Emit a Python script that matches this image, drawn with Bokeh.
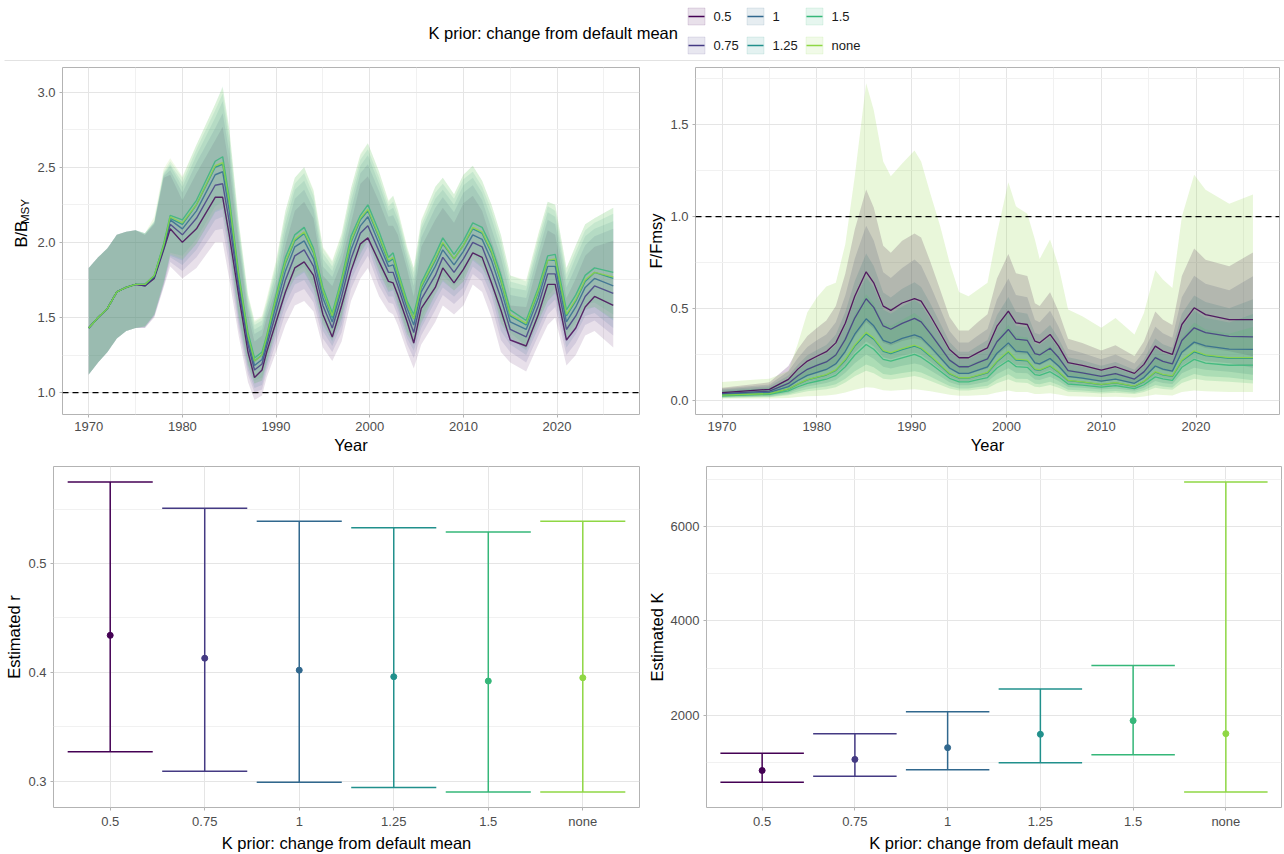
import math
from bokeh.plotting import figure
from bokeh.layouts import column, row
from bokeh.models import Range1d, FixedTicker, Span, NumeralTickFormatter
from bokeh.embed import file_html
from bokeh.resources import INLINE
from bokeh.core.properties import value

FONT = "Liberation Sans"
SCEN = ["0.5", "0.75", "1", "1.25", "1.5", "none"]
COLORS = ["#440154", "#443A83", "#31688E", "#21908C", "#35B779", "#8FD744"]

# ---------------- B/Bmsy ----------------
YEARS_B = [1970, 1971, 1972, 1973, 1974, 1975, 1976, 1977, 1978, 1978.7, 1980, 1981.5, 1983.5, 1984.3, 1985, 1986, 1987, 1987.7, 1988.5, 1989,
           1990, 1991, 1992, 1993, 1994, 1995, 1996, 1997, 1998, 1999, 1999.8, 2001, 2002, 2002.5, 2003, 2004, 2004.7, 2005.5, 2007, 2007.8,
           2009, 2010, 2011, 2012, 2013, 2014, 2015, 2016.7, 2018, 2019, 2019.8, 2021, 2022, 2023, 2024, 2026]
B_MED_05 = [1.43,1.50,1.56,1.67,1.70,1.72,1.71,1.76,1.95,2.09, 2.00,2.09,2.30,2.30,2.05,1.65,1.27,1.10,1.15,1.27, 1.47,1.67,1.83,1.87,1.78,1.52,1.37,1.58,1.81,1.99, 2.03,1.87,1.74,1.73,1.65,1.47,1.33,1.56,1.70,1.83, 1.73,1.82,1.93,1.90,1.73,1.55,1.35,1.31,1.52,1.72, 1.72,1.35,1.43,1.57,1.64,1.58]
B_MED_075 = [1.43,1.50,1.56,1.67,1.70,1.72,1.71,1.77,1.96,2.12, 2.05,2.16,2.38,2.39,2.14,1.70,1.32,1.15,1.19,1.31, 1.53,1.75,1.91,1.95,1.84,1.58,1.43,1.64,1.89,2.06, 2.11,1.94,1.80,1.80,1.71,1.52,1.40,1.62,1.78,1.90, 1.80,1.89,2.00,1.97,1.81,1.63,1.42,1.37,1.58,1.79, 1.79,1.42,1.51,1.64,1.71,1.66]
B_MED_1 = [1.43,1.50,1.56,1.67,1.70,1.72,1.72,1.77,1.97,2.15, 2.09,2.21,2.45,2.47,2.21,1.74,1.35,1.18,1.22,1.34, 1.58,1.81,1.97,2.01,1.89,1.63,1.47,1.69,1.95,2.11, 2.17,1.99,1.84,1.85,1.75,1.56,1.45,1.67,1.84,1.95, 1.85,1.94,2.05,2.02,1.88,1.69,1.47,1.42,1.63,1.84, 1.84,1.47,1.57,1.70,1.76,1.71]
B_MED_125 = [1.43,1.50,1.56,1.67,1.70,1.72,1.72,1.78,1.98,2.16, 2.12,2.25,2.50,2.52,2.26,1.77,1.38,1.21,1.25,1.36, 1.62,1.86,2.01,2.06,1.93,1.67,1.50,1.73,2.00,2.15, 2.21,2.03,1.87,1.89,1.78,1.59,1.49,1.70,1.88,1.99, 1.89,1.98,2.09,2.06,1.93,1.74,1.51,1.45,1.67,1.88, 1.88,1.51,1.61,1.74,1.80,1.76]
B_MED_15 = [1.43,1.50,1.56,1.67,1.70,1.72,1.72,1.78,1.99,2.18, 2.15,2.28,2.54,2.57,2.30,1.80,1.40,1.23,1.27,1.38, 1.65,1.90,2.05,2.10,1.96,1.70,1.53,1.76,2.04,2.18, 2.25,2.07,1.90,1.93,1.81,1.61,1.52,1.73,1.92,2.03, 1.92,2.01,2.13,2.10,1.97,1.78,1.55,1.48,1.70,1.91, 1.92,1.55,1.65,1.78,1.83,1.80]
B_MED_NONE = [1.43,1.50,1.56,1.67,1.70,1.72,1.72,1.78,1.98,2.17, 2.13,2.25,2.51,2.53,2.27,1.78,1.38,1.21,1.25,1.37, 1.63,1.87,2.02,2.07,1.94,1.68,1.51,1.74,2.01,2.16, 2.22,2.04,1.88,1.90,1.79,1.59,1.49,1.71,1.89,2.00, 1.89,1.98,2.10,2.07,1.94,1.75,1.52,1.46,1.68,1.88, 1.89,1.52,1.62,1.75,1.80,1.77]

B_LO_05 = [1.12,1.20,1.27,1.36,1.41,1.43,1.43,1.50,1.70,1.84, 1.76,1.83,2.00,2.00,1.76,1.38,1.07,0.95,0.98,1.10, 1.27,1.45,1.58,1.61,1.54,1.30,1.21,1.34,1.61,1.76, 1.83,1.64,1.54,1.52,1.45,1.27,1.16,1.32,1.47,1.58, 1.52,1.58,1.72,1.67,1.50,1.27,1.20,1.14,1.32,1.45, 1.50,1.18,1.25,1.38,1.41,1.30]
B_LO_075 = [1.12,1.20,1.27,1.36,1.41,1.43,1.43,1.51,1.71,1.87, 1.81,1.90,2.08,2.09,1.85,1.43,1.12,1.00,1.02,1.14, 1.33,1.53,1.66,1.69,1.60,1.36,1.27,1.40,1.69,1.83, 1.91,1.71,1.60,1.59,1.51,1.32,1.23,1.38,1.55,1.65, 1.59,1.65,1.79,1.74,1.58,1.35,1.27,1.20,1.38,1.52, 1.57,1.25,1.33,1.45,1.48,1.38]
B_LO_1 = [1.12,1.20,1.27,1.36,1.41,1.43,1.44,1.51,1.72,1.90, 1.85,1.95,2.15,2.17,1.92,1.47,1.15,1.03,1.05,1.17, 1.38,1.59,1.72,1.75,1.65,1.41,1.31,1.45,1.75,1.88, 1.97,1.76,1.64,1.64,1.55,1.36,1.28,1.43,1.61,1.70, 1.64,1.70,1.84,1.79,1.65,1.41,1.32,1.25,1.43,1.57, 1.62,1.30,1.39,1.51,1.53,1.43]
B_LO_125 = [1.12,1.20,1.27,1.36,1.41,1.43,1.44,1.52,1.73,1.91, 1.88,1.99,2.20,2.22,1.97,1.50,1.18,1.06,1.08,1.19, 1.42,1.64,1.76,1.80,1.69,1.45,1.34,1.49,1.80,1.92, 2.01,1.80,1.67,1.68,1.58,1.39,1.32,1.46,1.65,1.74, 1.68,1.74,1.88,1.83,1.70,1.46,1.36,1.28,1.47,1.61, 1.66,1.34,1.43,1.55,1.57,1.48]
B_LO_15 = [1.12,1.20,1.27,1.36,1.41,1.43,1.44,1.52,1.74,1.93, 1.91,2.02,2.24,2.27,2.01,1.53,1.20,1.08,1.10,1.21, 1.45,1.68,1.80,1.84,1.72,1.48,1.37,1.52,1.84,1.95, 2.05,1.84,1.70,1.72,1.61,1.41,1.35,1.49,1.69,1.78, 1.71,1.77,1.92,1.87,1.74,1.50,1.40,1.31,1.50,1.64, 1.70,1.38,1.47,1.59,1.60,1.52]
B_LO_NONE = [1.12,1.20,1.27,1.36,1.41,1.43,1.44,1.52,1.73,1.92, 1.89,1.99,2.21,2.23,1.98,1.51,1.18,1.06,1.08,1.20, 1.43,1.65,1.77,1.81,1.70,1.46,1.35,1.50,1.81,1.93, 2.02,1.81,1.68,1.69,1.59,1.39,1.32,1.47,1.66,1.75, 1.68,1.74,1.89,1.84,1.71,1.47,1.37,1.29,1.48,1.61, 1.67,1.35,1.44,1.56,1.57,1.49]

B_HI_05 = [1.83,1.90,1.96,2.05,2.07,2.08,2.05,2.12,2.43,2.45, 2.28,2.46,2.68,2.77,2.51,1.99,1.52,1.34,1.38,1.50, 1.69,1.98,2.21,2.27,2.16,1.78,1.71,1.87,2.13,2.39, 2.44,2.27,2.11,2.11,2.05,1.82,1.64,1.97,2.15,2.23, 2.13,2.26,2.31,2.21,2.01,1.82,1.58,1.57,1.87,2.08, 2.05,1.63,1.76,1.91,1.97,2.01]
B_HI_075 = [1.83,1.90,1.96,2.05,2.07,2.08,2.05,2.13,2.44,2.48, 2.33,2.53,2.76,2.86,2.60,2.04,1.57,1.39,1.42,1.54, 1.75,2.06,2.29,2.35,2.22,1.84,1.77,1.93,2.21,2.46, 2.52,2.34,2.17,2.18,2.11,1.87,1.71,2.03,2.23,2.30, 2.20,2.33,2.38,2.28,2.09,1.90,1.65,1.63,1.93,2.15, 2.12,1.70,1.84,1.98,2.04,2.09]
B_HI_1 = [1.83,1.90,1.96,2.05,2.07,2.08,2.06,2.13,2.45,2.51, 2.37,2.58,2.83,2.94,2.67,2.08,1.60,1.42,1.45,1.57, 1.80,2.12,2.35,2.41,2.27,1.89,1.81,1.98,2.27,2.51, 2.58,2.39,2.21,2.23,2.15,1.91,1.76,2.08,2.29,2.35, 2.25,2.38,2.43,2.33,2.16,1.96,1.70,1.68,1.98,2.20, 2.17,1.75,1.90,2.04,2.09,2.14]
B_HI_125 = [1.83,1.90,1.96,2.05,2.07,2.08,2.06,2.14,2.46,2.52, 2.40,2.62,2.88,2.99,2.72,2.11,1.63,1.45,1.48,1.59, 1.84,2.17,2.39,2.46,2.31,1.93,1.84,2.02,2.32,2.55, 2.62,2.43,2.24,2.27,2.18,1.94,1.80,2.11,2.33,2.39, 2.29,2.42,2.47,2.37,2.21,2.01,1.74,1.71,2.02,2.24, 2.21,1.79,1.94,2.08,2.13,2.19]
B_HI_15 = [1.83,1.90,1.96,2.05,2.07,2.08,2.06,2.14,2.47,2.54, 2.43,2.65,2.92,3.04,2.76,2.14,1.65,1.47,1.50,1.61, 1.87,2.21,2.43,2.50,2.34,1.96,1.87,2.05,2.36,2.58, 2.66,2.47,2.27,2.31,2.21,1.96,1.83,2.14,2.37,2.43, 2.32,2.45,2.51,2.41,2.25,2.05,1.78,1.74,2.05,2.27, 2.25,1.83,1.98,2.12,2.16,2.23]
B_HI_NONE = [1.83,1.90,1.96,2.05,2.07,2.08,2.06,2.17,2.49,2.56, 2.44,2.65,2.92,3.03,2.76,2.15,1.66,1.48,1.51,1.63, 1.88,2.21,2.43,2.50,2.35,1.97,1.88,2.06,2.36,2.59, 2.66,2.47,2.28,2.31,2.22,1.97,1.83,2.15,2.37,2.43, 2.32,2.45,2.51,2.41,2.25,2.05,1.78,1.75,2.06,2.27, 2.25,1.83,1.98,2.12,2.16,2.23]

# ---------------- F/Fmsy ----------------
YEARS_F = [1970, 1975, 1977, 1978, 1979, 1980, 1981, 1982, 1983, 1984, 1985.2, 1986, 1987, 1987.8, 1989, 1990.3, 1991, 1992, 1993, 1994,
           1995, 1996, 1997, 1998, 1999, 2000.2, 2001, 2002.2, 2003, 2003.5, 2004.6, 2005.5, 2006.5, 2008, 2010, 2011.5, 2013.5, 2014.5, 2015.7, 2016.5,
           2017.5, 2018.5, 2019.8, 2021, 2023.5, 2026]
F_MED_05 = [0.042,0.060,0.114,0.170,0.214,0.240,0.265,0.313,0.420,0.567, 0.700,0.640,0.513,0.490,0.530,0.554,0.540,0.458,0.368,0.277, 0.232,0.232,0.260,0.286,0.404,0.486,0.422,0.413,0.322,0.313, 0.359,0.295,0.205,0.190,0.165,0.183,0.147,0.196,0.295,0.268, 0.250,0.413,0.504,0.467,0.440,0.440]
F_MED_075 = [0.037,0.050,0.092,0.134,0.169,0.190,0.209,0.247,0.332,0.448, 0.553,0.506,0.405,0.387,0.419,0.446,0.427,0.362,0.291,0.219, 0.183,0.183,0.205,0.226,0.319,0.386,0.333,0.326,0.254,0.247, 0.284,0.233,0.162,0.150,0.130,0.145,0.116,0.155,0.233,0.212, 0.198,0.326,0.395,0.369,0.348,0.346]
F_MED_1 = [0.033,0.043,0.075,0.108,0.136,0.152,0.168,0.199,0.267,0.360, 0.444,0.406,0.326,0.311,0.337,0.357,0.343,0.291,0.234,0.176, 0.147,0.147,0.165,0.182,0.257,0.313,0.268,0.262,0.204,0.199, 0.228,0.187,0.130,0.121,0.105,0.116,0.093,0.124,0.187,0.170, 0.159,0.262,0.317,0.297,0.279,0.277]
F_MED_125 = [0.029,0.037,0.061,0.088,0.111,0.125,0.138,0.163,0.218,0.295, 0.362,0.333,0.267,0.255,0.276,0.295,0.281,0.238,0.191,0.144, 0.121,0.121,0.135,0.149,0.210,0.263,0.219,0.215,0.167,0.163, 0.187,0.153,0.107,0.099,0.086,0.095,0.076,0.102,0.153,0.139, 0.130,0.215,0.264,0.243,0.229,0.228]
F_MED_15 = [0.025,0.033,0.052,0.074,0.093,0.104,0.115,0.136,0.183,0.247, 0.304,0.278,0.223,0.213,0.231,0.250,0.235,0.199,0.160,0.120, 0.101,0.101,0.113,0.124,0.176,0.217,0.184,0.180,0.140,0.136, 0.156,0.128,0.089,0.083,0.072,0.080,0.064,0.085,0.128,0.117, 0.109,0.180,0.223,0.203,0.191,0.192]
F_MED_NONE = [0.029,0.037,0.062,0.090,0.113,0.127,0.140,0.166,0.223,0.301, 0.370,0.339,0.272,0.260,0.281,0.300,0.286,0.243,0.195,0.147, 0.123,0.123,0.138,0.152,0.214,0.268,0.224,0.219,0.171,0.166, 0.190,0.156,0.109,0.101,0.087,0.097,0.078,0.104,0.156,0.142, 0.133,0.219,0.270,0.248,0.233,0.233]

F_LO_05 = [0.026,0.037,0.070,0.104,0.131,0.146,0.162,0.191,0.256,0.346, 0.427,0.390,0.313,0.299,0.323,0.338,0.329,0.279,0.224,0.169, 0.142,0.142,0.159,0.174,0.246,0.296,0.257,0.252,0.196,0.191, 0.219,0.180,0.125,0.116,0.101,0.112,0.090,0.120,0.180,0.163, 0.153,0.252,0.307,0.285,0.268,0.240]
F_LO_075 = [0.021,0.029,0.053,0.078,0.098,0.110,0.121,0.143,0.193,0.260, 0.321,0.293,0.235,0.224,0.243,0.259,0.248,0.210,0.169,0.127, 0.106,0.106,0.119,0.131,0.185,0.224,0.193,0.189,0.147,0.143, 0.165,0.135,0.094,0.087,0.075,0.084,0.067,0.090,0.135,0.123, 0.115,0.189,0.229,0.214,0.202,0.178]
F_LO_1 = [0.018,0.024,0.042,0.060,0.076,0.085,0.094,0.111,0.150,0.202, 0.249,0.227,0.183,0.174,0.189,0.200,0.192,0.163,0.131,0.099, 0.082,0.082,0.092,0.102,0.144,0.175,0.150,0.147,0.114,0.111, 0.128,0.105,0.073,0.068,0.059,0.065,0.052,0.069,0.105,0.095, 0.089,0.147,0.178,0.166,0.156,0.140]
F_LO_125 = [0.016,0.020,0.033,0.048,0.060,0.068,0.075,0.088,0.118,0.159, 0.195,0.180,0.144,0.138,0.149,0.159,0.152,0.129,0.103,0.078, 0.065,0.065,0.073,0.080,0.113,0.142,0.118,0.116,0.090,0.088, 0.101,0.083,0.058,0.053,0.046,0.051,0.041,0.055,0.083,0.075, 0.070,0.116,0.143,0.131,0.124,0.110]
F_LO_15 = [0.013,0.017,0.028,0.039,0.049,0.055,0.061,0.072,0.097,0.131, 0.161,0.147,0.118,0.113,0.122,0.133,0.125,0.105,0.085,0.064, 0.054,0.054,0.060,0.066,0.093,0.115,0.098,0.095,0.074,0.072, 0.083,0.068,0.047,0.044,0.038,0.042,0.034,0.045,0.068,0.062, 0.058,0.095,0.118,0.108,0.101,0.092]
F_LO_NONE = [0.009,0.010,0.013,0.018,0.022,0.024,0.027,0.032,0.043,0.058, 0.072,0.068,0.055,0.052,0.056,0.060,0.057,0.049,0.040,0.030, 0.025,0.025,0.028,0.031,0.043,0.053,0.046,0.045,0.035,0.034, 0.039,0.032,0.022,0.021,0.018,0.020,0.016,0.021,0.032,0.029, 0.027,0.045,0.054,0.050,0.046,0.045]

F_HI_05 = [0.069,0.098,0.187,0.279,0.351,0.394,0.435,0.513,0.689,0.930, 1.148,1.050,0.841,0.804,0.869,0.909,0.886,0.751,0.604,0.454, 0.380,0.380,0.426,0.469,0.663,0.797,0.692,0.677,0.528,0.513, 0.589,0.484,0.336,0.312,0.271,0.300,0.241,0.321,0.484,0.440, 0.410,0.677,0.827,0.766,0.730,0.805]
F_HI_075 = [0.064,0.086,0.158,0.230,0.291,0.327,0.359,0.425,0.571,0.771, 0.951,0.870,0.697,0.666,0.721,0.767,0.734,0.623,0.501,0.377, 0.315,0.315,0.353,0.389,0.549,0.664,0.573,0.561,0.437,0.425, 0.488,0.401,0.279,0.258,0.224,0.249,0.200,0.267,0.401,0.365, 0.341,0.561,0.679,0.635,0.599,0.675]
F_HI_1 = [0.059,0.077,0.135,0.194,0.245,0.274,0.302,0.358,0.481,0.648, 0.799,0.731,0.587,0.560,0.607,0.643,0.617,0.524,0.421,0.317, 0.265,0.265,0.297,0.328,0.463,0.563,0.482,0.472,0.367,0.358, 0.410,0.337,0.234,0.218,0.189,0.209,0.167,0.223,0.337,0.306, 0.286,0.472,0.571,0.535,0.502,0.550]
F_HI_125 = [0.054,0.068,0.113,0.163,0.205,0.231,0.255,0.302,0.403,0.546, 0.670,0.616,0.494,0.472,0.511,0.546,0.520,0.440,0.353,0.266, 0.224,0.224,0.250,0.276,0.389,0.487,0.405,0.398,0.309,0.302, 0.346,0.283,0.198,0.183,0.159,0.176,0.141,0.189,0.283,0.257, 0.241,0.398,0.488,0.450,0.424,0.470]
F_HI_15 = [0.048,0.063,0.099,0.141,0.177,0.198,0.219,0.258,0.348,0.469, 0.578,0.528,0.424,0.405,0.439,0.475,0.447,0.378,0.304,0.228, 0.192,0.192,0.215,0.236,0.334,0.412,0.350,0.342,0.266,0.258, 0.296,0.243,0.169,0.158,0.137,0.152,0.122,0.162,0.243,0.222, 0.207,0.342,0.424,0.386,0.363,0.400]
F_HI_NONE = [0.100,0.118,0.160,0.310,0.480,0.560,0.620,0.640,0.850,1.220, 1.726,1.580,1.300,1.220,1.290,1.360,1.300,1.120,0.950,0.750, 0.590,0.567,0.603,0.640,0.910,1.187,1.056,1.016,0.875,0.770, 0.875,0.730,0.495,0.458,0.395,0.449,0.359,0.476,0.708,0.658, 0.612,1.000,1.228,1.147,1.070,1.120]

# ---------------- r and K ----------------
R_MED = [0.434, 0.413, 0.402, 0.396, 0.392, 0.395]
R_LO = [0.327, 0.309, 0.299, 0.294, 0.290, 0.290]
R_HI = [0.575, 0.551, 0.539, 0.533, 0.529, 0.539]
K_MED = [834, 1069, 1317, 1600, 1889, 1614]
K_LO = [586, 710, 848, 1000, 1165, 379]
K_HI = [1200, 1614, 2076, 2559, 3055, 6938]

B_MEDS = [B_MED_05, B_MED_075, B_MED_1, B_MED_125, B_MED_15, B_MED_NONE]
B_LOS = [B_LO_05, B_LO_075, B_LO_1, B_LO_125, B_LO_15, B_LO_NONE]
B_HIS = [B_HI_05, B_HI_075, B_HI_1, B_HI_125, B_HI_15, B_HI_NONE]
F_MEDS = [F_MED_05, F_MED_075, F_MED_1, F_MED_125, F_MED_15, F_MED_NONE]
F_LOS = [F_LO_05, F_LO_075, F_LO_1, F_LO_125, F_LO_15, F_LO_NONE]
F_HIS = [F_HI_05, F_HI_075, F_HI_1, F_HI_125, F_HI_15, F_HI_NONE]

TICK_FS = "13px"
TITLE_FS = "16.5px"


def style(p, xlabel, ylabel):
    p.background_fill_color = "white"
    p.border_fill_color = "white"
    p.outline_line_color = "#b3b3b3"
    p.outline_line_width = 1
    p.xaxis.axis_label = xlabel
    p.yaxis.axis_label = ylabel
    for ax in p.axis:
        ax.axis_line_color = None
        ax.major_tick_line_color = "#b3b3b3"
        ax.major_tick_in = 0
        ax.major_tick_out = 3
        ax.minor_tick_line_color = None
        ax.major_label_text_font = FONT
        ax.major_label_text_font_size = TICK_FS
        ax.major_label_text_color = "#4d4d4d"
        ax.axis_label_text_font = FONT
        ax.axis_label_text_font_size = TITLE_FS
        ax.axis_label_text_font_style = "normal"
        ax.axis_label_text_color = "black"
        ax.major_label_standoff = 3
        ax.axis_label_standoff = 2
    for g in (p.xgrid[0], p.ygrid[0]):
        g.grid_line_color = "#e5e5e5"
        g.grid_line_width = 1
        g.minor_grid_line_color = "#f1f1f1"
        g.minor_grid_line_width = 1


def make_fig(w, h, xr, yr, bl, br, bt, bb):
    return figure(width=w, height=h, x_range=xr, y_range=yr, toolbar_location=None,
                  output_backend="svg", min_border_left=bl, min_border_right=br,
                  min_border_top=bt, min_border_bottom=bb)


def blank_fig(w, h, xr, yr):
    f = figure(width=w, height=h, x_range=xr, y_range=yr, toolbar_location=None,
               output_backend="svg", min_border=0)
    f.axis.visible = False
    f.grid.visible = False
    f.outline_line_color = None
    f.background_fill_color = "white"
    f.border_fill_color = "white"
    return f


# ---- B panel ----
p1 = make_fig(608, 399, Range1d(1967.2, 2028.8), Range1d(0.854, 3.164), 24, 3, 6, 46)
style(p1, "Year", None)
p1.xaxis.ticker = FixedTicker(ticks=[1970, 1980, 1990, 2000, 2010, 2020],
                              minor_ticks=[1975, 1985, 1995, 2005, 2015, 2025])
p1.yaxis.ticker = FixedTicker(ticks=[1.0, 1.5, 2.0, 2.5, 3.0], minor_ticks=[1.25, 1.75, 2.25, 2.75])
p1.yaxis.formatter = NumeralTickFormatter(format="0.0")
for i in range(6):
    p1.varea(x=YEARS_B, y1=B_LOS[i], y2=B_HIS[i], fill_color=COLORS[i], fill_alpha=0.12)
for i in range(6):
    p1.line(x=YEARS_B, y=B_MEDS[i], line_color=COLORS[i], line_width=1.4, line_alpha=0.8)
p1.add_layout(Span(location=1.0, dimension="width", line_color="black", line_dash="6 4", line_width=1.2))

# y-axis title with subscript for the B panel (separate strip on its left)
ylab = blank_fig(34, 399, Range1d(0, 34), Range1d(0, 399))
ylab.text(x=[20], y=[192], text=["B/B"], angle=math.pi / 2, text_font=value(FONT),
          text_font_size=TITLE_FS, text_align="left", text_baseline="middle", text_color="black")
ylab.text(x=[24], y=[219], text=["MSY"], angle=math.pi / 2, text_font=value(FONT),
          text_font_size="11.5px", text_align="left", text_baseline="middle", text_color="black")

# ---- F panel ----
p2 = make_fig(642, 399, Range1d(1967.2, 2028.8), Range1d(-0.077, 1.812), 53, 5, 6, 46)
style(p2, "Year", "F/Fmsy")
p2.xaxis.ticker = FixedTicker(ticks=[1970, 1980, 1990, 2000, 2010, 2020],
                              minor_ticks=[1975, 1985, 1995, 2005, 2015, 2025])
p2.yaxis.ticker = FixedTicker(ticks=[0.0, 0.5, 1.0, 1.5], minor_ticks=[0.25, 0.75, 1.25, 1.75])
p2.yaxis.formatter = NumeralTickFormatter(format="0.0")
for i in range(6):
    p2.varea(x=YEARS_F, y1=F_LOS[i], y2=F_HIS[i], fill_color=COLORS[i], fill_alpha=0.2)
for i in range(6):
    p2.line(x=YEARS_F, y=F_MEDS[i], line_color=COLORS[i], line_width=1.3, line_alpha=0.85)
p2.add_layout(Span(location=1.0, dimension="width", line_color="black", line_dash="6 4", line_width=1.2))

# ---- r panel ----
XPOS = [i + 1 for i in range(len(SCEN))]
CAP = 0.45
overrides = {i + 1: s for i, s in enumerate(SCEN)}

p3 = make_fig(642, 394, Range1d(0.4, 6.6), Range1d(0.2757, 0.5893), 53, 3, 6, 40)
style(p3, "K prior: change from default mean", "Estimated r")
p3.xaxis.ticker = FixedTicker(ticks=XPOS, minor_ticks=[])
p3.xaxis.major_label_overrides = overrides
p3.yaxis.ticker = FixedTicker(ticks=[0.3, 0.4, 0.5], minor_ticks=[0.35, 0.45, 0.55])
p3.yaxis.formatter = NumeralTickFormatter(format="0.0")
p3.segment(x0=XPOS, y0=R_LO, x1=XPOS, y1=R_HI, line_color=COLORS, line_width=1.5)
p3.segment(x0=[x - CAP for x in XPOS], y0=R_HI, x1=[x + CAP for x in XPOS], y1=R_HI, line_color=COLORS, line_width=1.5)
p3.segment(x0=[x - CAP for x in XPOS], y0=R_LO, x1=[x + CAP for x in XPOS], y1=R_LO, line_color=COLORS, line_width=1.5)
p3.scatter(x=XPOS, y=R_MED, size=6, fill_color=COLORS, line_color=COLORS)

# ---- K panel ----
p4 = make_fig(642, 394, Range1d(0.4, 6.6), Range1d(51, 7266), 64, 3, 6, 40)
style(p4, "K prior: change from default mean", "Estimated K")
p4.xaxis.ticker = FixedTicker(ticks=XPOS, minor_ticks=[])
p4.xaxis.major_label_overrides = overrides
p4.yaxis.ticker = FixedTicker(ticks=[2000, 4000, 6000], minor_ticks=[1000, 3000, 5000, 7000])
p4.yaxis.formatter = NumeralTickFormatter(format="0")
p4.segment(x0=XPOS, y0=K_LO, x1=XPOS, y1=K_HI, line_color=COLORS, line_width=1.5)
p4.segment(x0=[x - CAP for x in XPOS], y0=K_HI, x1=[x + CAP for x in XPOS], y1=K_HI, line_color=COLORS, line_width=1.5)
p4.segment(x0=[x - CAP for x in XPOS], y0=K_LO, x1=[x + CAP for x in XPOS], y1=K_LO, line_color=COLORS, line_width=1.5)
p4.scatter(x=XPOS, y=K_MED, size=6, fill_color=COLORS, line_color=COLORS)

# ---- legend strip ----
leg = blank_fig(1284, 61, Range1d(0, 1284), Range1d(61, 0))
kx = [696 + 59 * (i // 2) for i in range(6)]
ky = [16 + 29 * (i % 2) for i in range(6)]
leg.rect(x=kx, y=ky, width=17, height=17, fill_color=COLORS, fill_alpha=0.12,
         line_color=COLORS, line_alpha=0.12)
leg.segment(x0=[x - 8 for x in kx], y0=ky, x1=[x + 8 for x in kx], y1=ky, line_color=COLORS, line_width=1.4)
leg.text(x=[x + 17 for x in kx], y=ky, text=SCEN, text_font=value(FONT), text_font_size=TICK_FS,
         text_baseline="middle", text_align="left", text_color="#1a1a1a")
leg.text(x=[428], y=[32], text=["K prior: change from default mean"], text_font=value(FONT),
         text_font_size=TITLE_FS, text_baseline="middle", text_align="left", text_color="black")
leg.segment(x0=[4], y0=[60.5], x1=[1284], y1=[60.5], line_color="#c4c4c4", line_width=1)

layout = column(leg, row(ylab, p1, p2), row(p3, p4))
open("out.html", "w").write(file_html(layout, INLINE))
